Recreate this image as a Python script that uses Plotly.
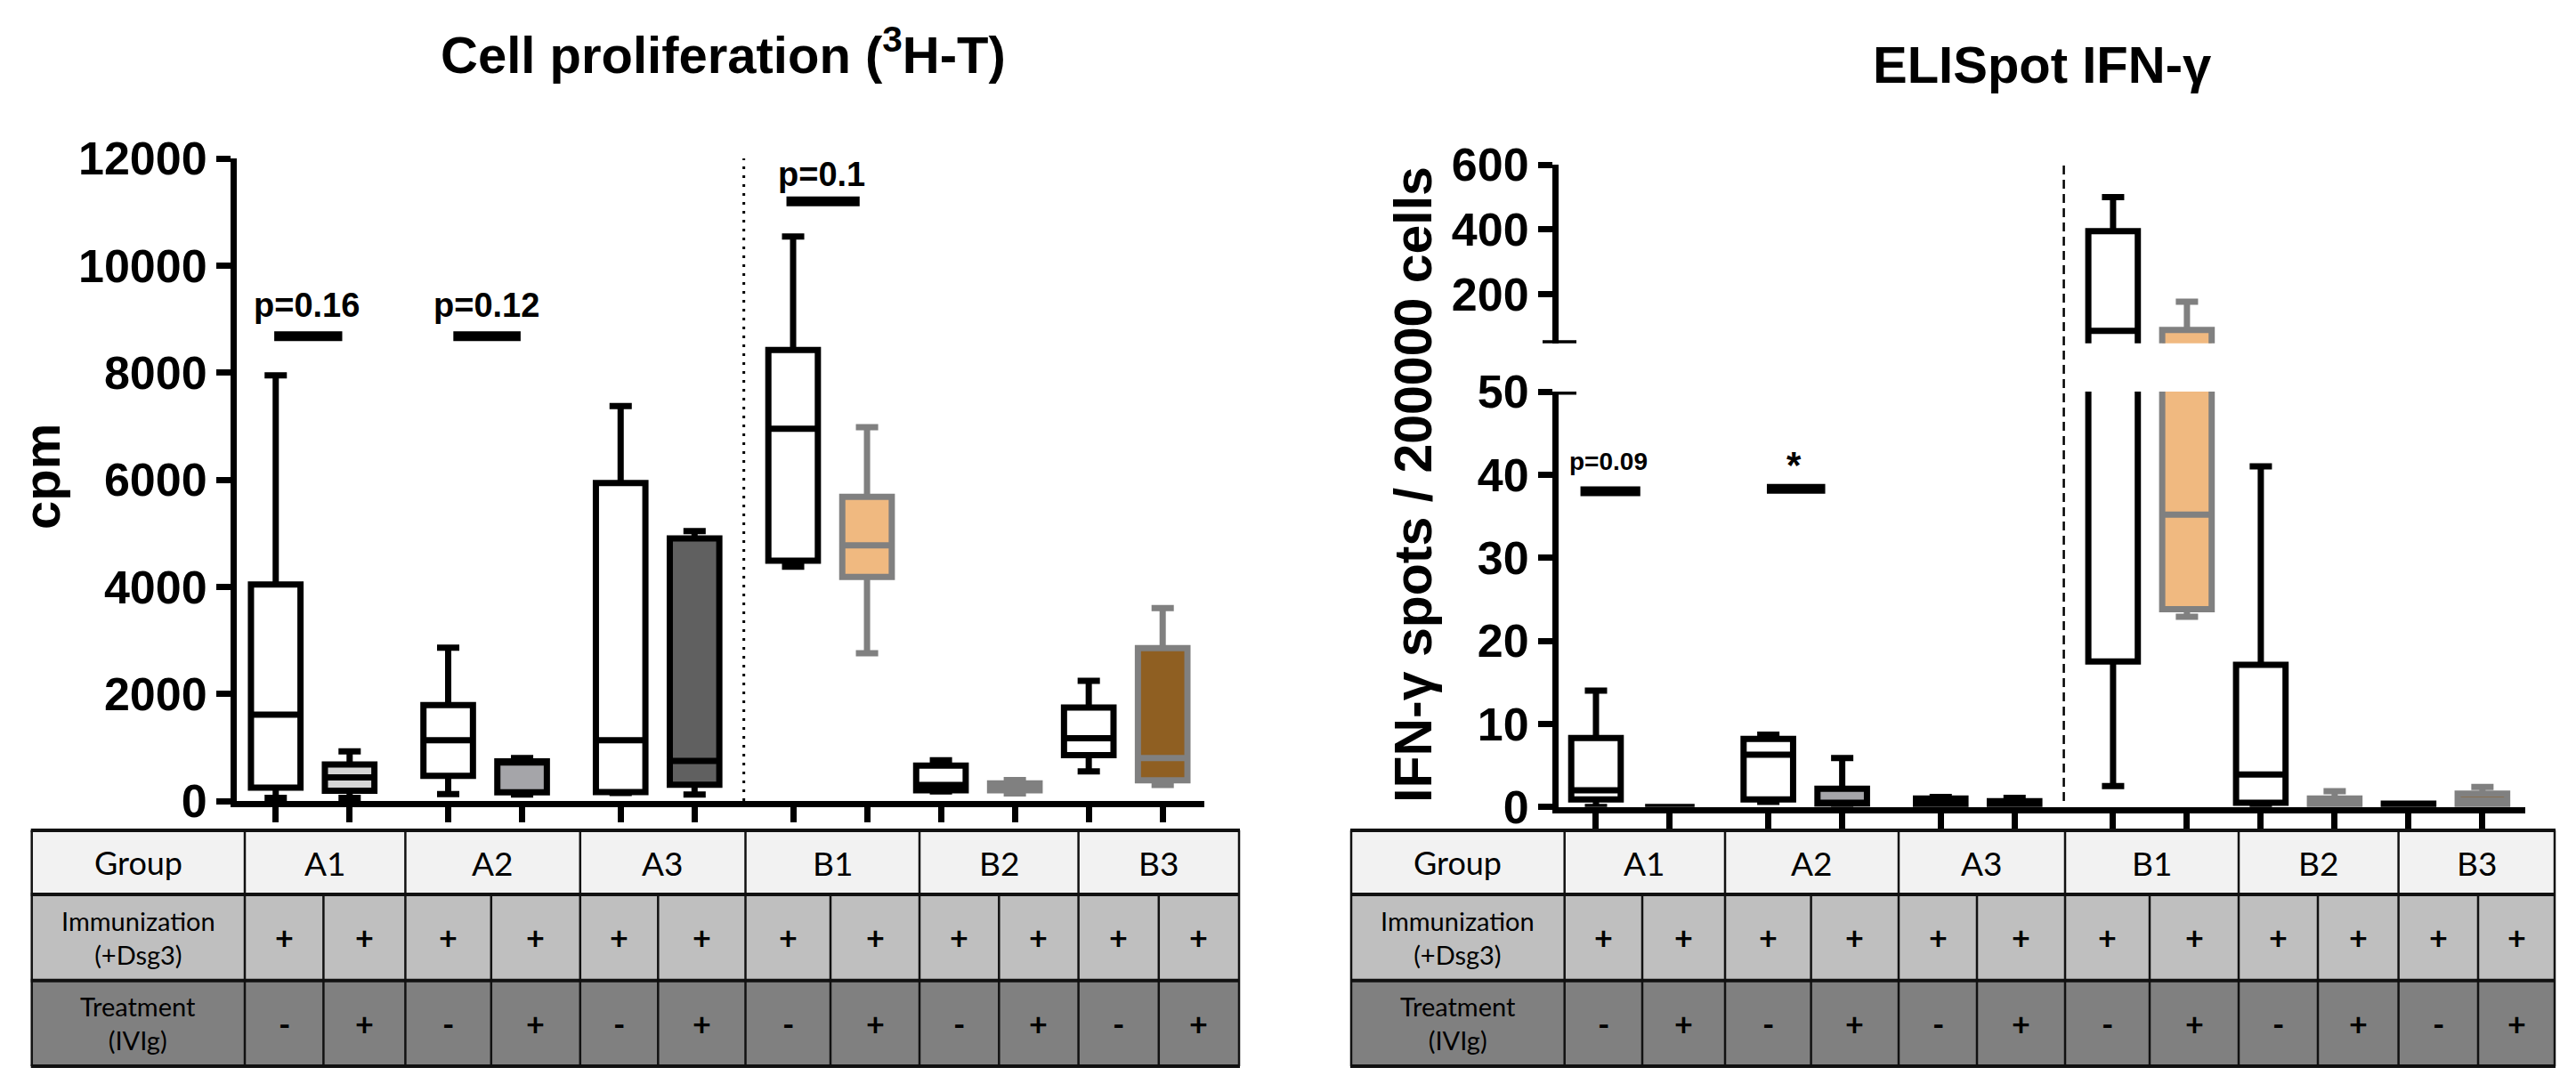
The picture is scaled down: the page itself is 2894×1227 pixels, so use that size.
import plotly.graph_objects as go

W, H = 2894, 1227
OX, OY = 8, 8  # page body margin compensation

# ---------------- data ----------------
groups = ["A1", "A2", "A3", "B1", "B2", "B3"]
immunization = ["+"] * 12
treatment = ["-", "+"] * 6

cpm_min    = [60, 60, 127, 120, 150, 120, 4376, 2759, 180, 140, 554, 300]
cpm_q1     = [250, 190, 469, 160, 166, 305, 4487, 4183, 200, 200, 857, 385]
cpm_median = [1612, 440, 1134, 720, 1135, 748, 6953, 4776, 300, 260, 1173, 803]
cpm_q3     = [4044, 680, 1790, 740, 5939, 4903, 8421, 5679, 660, 330, 1745, 2853]
cpm_max    = [7950, 925, 2864, 800, 7374, 5041, 10542, 6980, 760, 390, 2244, 3601]

ifn_min    = [0, 0, 0.6, 0, 0, 0, 2.5, 22.9, 0, 0, 0, 0]
ifn_q1     = [0.9, 0, 0.9, 0.4, 0.1, 0.2, 17.5, 23.8, 0.5, 0.1, 0.1, 0.2]
ifn_median = [2.0, 0, 6.3, 0.5, 0.5, 0.4, 88, 35.2, 3.9, 0.5, 0.2, 0.8]
ifn_q3     = [8.3, 0, 8.2, 2.2, 1.0, 0.7, 395, 91, 17.1, 1.0, 0.4, 1.6]
ifn_max    = [14, 0, 8.7, 5.9, 1.2, 1.1, 500, 178, 41, 1.9, 0.4, 2.4]

cpm_sig_text  = ["p=0.16", "p=0.12", "p=0.1"]
cpm_sig_group = [0, 1, 3]
cpm_sig_value = [8680, 8680, 11200]
ifn_sig_text  = ["p=0.09", "*"]
ifn_sig_group = [0, 1]
ifn_sig_value = [38.0, 38.3]

cpm_ticks = [0, 2000, 4000, 6000, 8000, 10000, 12000]
ifn_ticks_low = [0, 10, 20, 30, 40, 50]
ifn_ticks_high = [200, 400, 600]

# ---------------- styles / layout helpers ----------------
fills = ["white", "#d4d4d4", "white", "#a5a5a9", "white", "#606060",
         "white", "#f0b980", "white", "#808080", "white", "#8f5f22"]
lines = ["black", "black", "black", "black", "black", "black",
         "black", "#808080", "black", "#808080", "black", "#808080"]

pos = []
for g in range(len(groups)):
    base = g * 7 / 3 if g < 3 else 7 + (g - 3) * 2
    pos += [base, base + 1]
divider = (pos[5] + pos[6]) / 2

cpm_bar_span = [(-0.02, 0.90), (0.07, 0.98), (-0.09, 0.90)]
cpm_lab_dx = [0.42, 0.52, 0.38]
cpm_lab_shift = [35, 35, 30]
ifn_bar_span = [(-0.21, 0.60), (-0.02, 0.77)]
ifn_lab_dx = [0.17, 0.35]
ifn_lab_shift = [34, 27]
ifn_lab_size = [28, 42]

AX = "Liberation Sans, Arial"
TB = "Lato, Calibri"


def py(y):
    return 1 - (y - OY) / H


def px(x):
    return (x - OX) / W


fig = go.Figure()


def note(x, y, text, font, xref="paper", yref="paper", **kw):
    fig.add_annotation(x=x, y=y, xref=xref, yref=yref, text=text, showarrow=False,
                       xanchor="center", yanchor="middle", font=font, **kw)


def add_box(i, xa, ya, mn, q1, md, q3, mx):
    fig.add_trace(go.Box(
        x=[pos[i]], q1=[q1[i]], median=[md[i]], q3=[q3[i]],
        lowerfence=[mn[i]], upperfence=[mx[i]], orientation="v",
        width=0.67, whiskerwidth=0.45, boxpoints=False,
        fillcolor=fills[i], line=dict(color=lines[i], width=7),
        xaxis=xa, yaxis=ya, showlegend=False, hoverinfo="skip"))


for i in range(12):
    add_box(i, "x", "y", cpm_min, cpm_q1, cpm_median, cpm_q3, cpm_max)
for i in range(12):
    add_box(i, "x2", "y2", ifn_min, ifn_q1, ifn_median, ifn_q3, ifn_max)
    if ifn_max[i] > ifn_ticks_low[-1]:
        add_box(i, "x2", "y3", ifn_min, ifn_q1, ifn_median, ifn_q3, ifn_max)

# significance bars
for k, g in enumerate(cpm_sig_group):
    b = pos[2 * g]
    x0, x1 = cpm_bar_span[k]
    fig.add_trace(go.Scatter(x=[b + x0, b + x1], y=[cpm_sig_value[k]] * 2, mode="lines",
                             line=dict(color="black", width=11), xaxis="x", yaxis="y",
                             showlegend=False, hoverinfo="skip"))
    note(b + cpm_lab_dx[k], cpm_sig_value[k], cpm_sig_text[k],
         dict(family=AX, size=38, color="black", weight="bold"),
         xref="x", yref="y", yshift=cpm_lab_shift[k])
for k, g in enumerate(ifn_sig_group):
    b = pos[2 * g]
    x0, x1 = ifn_bar_span[k]
    fig.add_trace(go.Scatter(x=[b + x0, b + x1], y=[ifn_sig_value[k]] * 2, mode="lines",
                             line=dict(color="black", width=11), xaxis="x2", yaxis="y2",
                             showlegend=False, hoverinfo="skip"))
    note(b + ifn_lab_dx[k], ifn_sig_value[k], ifn_sig_text[k],
         dict(family=AX, size=ifn_lab_size[k], color="black", weight="bold"),
         xref="x2", yref="y2", yshift=ifn_lab_shift[k])

# ---------------- axes ----------------
tickfont = dict(family=AX, size=52, color="black", weight="bold")
common_x = dict(showline=True, linewidth=7, linecolor="black", ticks="outside",
                ticklen=17, tickwidth=7, tickcolor="black", showticklabels=False,
                showgrid=False, zeroline=False, tickvals=pos, automargin=False)
common_y = dict(showline=True, linewidth=7, linecolor="black", ticks="outside",
                ticklen=16, tickwidth=7, tickcolor="black", showgrid=False,
                zeroline=False, tickfont=tickfont, tickformat="d", automargin=False)

fig.update_layout(
    width=W, height=H, autosize=False,
    margin=dict(l=0, r=0, t=0, b=0, pad=0, autoexpand=False),
    paper_bgcolor="white", plot_bgcolor="white", boxmode="overlay",
    xaxis=dict(domain=[px(266), px(1352.7)], range=[-0.527, 12.56], anchor="y", **common_x),
    yaxis=dict(domain=[py(900), py(178)], range=[0, 12000], tickvals=cpm_ticks,
               anchor="x", **common_y),
    xaxis2=dict(domain=[px(1751), px(2837)], range=[-0.506, 12.58], anchor="y2", **common_x),
    yaxis2=dict(domain=[py(906.7), py(440)], range=[0, 50], tickvals=ifn_ticks_low,
                anchor="x2", **common_y),
    yaxis3=dict(domain=[py(385.7), py(185)], range=[50, 600], tickvals=ifn_ticks_high,
                anchor="x2", **common_y),
)

# divider lines
fig.add_shape(type="line", xref="x", yref="y", x0=divider, x1=divider, y0=0, y1=12000,
              line=dict(color="black", width=3, dash="3px,7px"))
fig.add_shape(type="line", xref="x2", yref="paper", x0=divider, x1=divider,
              y0=py(900), y1=py(185), line=dict(color="black", width=2.5, dash="10px,6px"))
# axis-break caps on the right axis
fig.add_shape(type="line", xref="paper", yref="y3", x0=px(1733), x1=px(1771), y0=50, y1=50,
              line=dict(color="black", width=7))
fig.add_shape(type="line", xref="paper", yref="y2", x0=px(1733), x1=px(1771), y0=50, y1=50,
              line=dict(color="black", width=7))

# titles
bold = lambda s: dict(family=AX, size=s, color="black", weight="bold")
note(px(812), py(58), "Cell proliferation (<sup>3</sup>H-T)", bold(58))
note(px(2294), py(72), "ELISpot IFN-γ", bold(58))
note(px(46), py(536), "cpm", bold(58), textangle=-90)
note(px(1588), py(545), "IFN-γ spots / 200000 cells", bold(59), textangle=-90)


# ---------------- tables ----------------
def add_table(xl, gb, sb):
    rows = [933, 1005, 1101.7, 1198]
    rfill = ["#f2f2f2", "#bfbfbf", "#808080"]
    xr = gb[-1]
    for r in range(3):
        fig.add_shape(type="rect", xref="paper", yref="paper", x0=px(xl), x1=px(xr),
                      y0=py(rows[r + 1]), y1=py(rows[r]), fillcolor=rfill[r],
                      line_width=0, layer="below")
    for y in rows:
        fig.add_shape(type="line", xref="paper", yref="paper", x0=px(xl - 1), x1=px(xr + 1),
                      y0=py(y), y1=py(y), line=dict(color="#111111", width=4))
    for x in [xl] + gb:
        fig.add_shape(type="line", xref="paper", yref="paper", x0=px(x), x1=px(x),
                      y0=py(rows[0]), y1=py(rows[3]), line=dict(color="#111111", width=2.5))
    for x in sb:
        fig.add_shape(type="line", xref="paper", yref="paper", x0=px(x), x1=px(x),
                      y0=py(rows[1]), y1=py(rows[3]), line=dict(color="#111111", width=2.5))
    cy = [(rows[i] + rows[i + 1]) / 2 for i in range(3)]
    hx = (xl + gb[0]) / 2
    note(px(hx), py(cy[0]), "Group", dict(family=TB, size=36, color="black"))
    note(px(hx), py(cy[1]), "Immunization<br>(+Dsg3)", dict(family=TB, size=29, color="black"))
    note(px(hx), py(cy[2]), "Treatment<br>(IVIg)", dict(family=TB, size=29, color="black"))
    for g, name in enumerate(groups):
        note(px((gb[g] + gb[g + 1]) / 2), py(cy[0]), name,
             dict(family=TB, size=37, color="black"))
        cells = [(gb[g], sb[g]), (sb[g], gb[g + 1])]
        for j, (a, b) in enumerate(cells):
            idx = 2 * g + j
            note(px((a + b) / 2), py(cy[1]), immunization[idx],
                 dict(family=TB, size=36, color="black", weight="bold"))
            note(px((a + b) / 2), py(cy[2]), treatment[idx],
                 dict(family=TB, size=36, color="black", weight="bold"))


add_table(35.7, [275, 455.4, 651.8, 837.5, 1033, 1211.6, 1392],
          [363.4, 551.8, 739.3, 933, 1122.3, 1301.8])
add_table(1518, [1757.7, 1938, 2133, 2320, 2515, 2694.6, 2870],
          [1845, 2034.6, 2221, 2415, 2604, 2784])

fig.write_html("out.html")
